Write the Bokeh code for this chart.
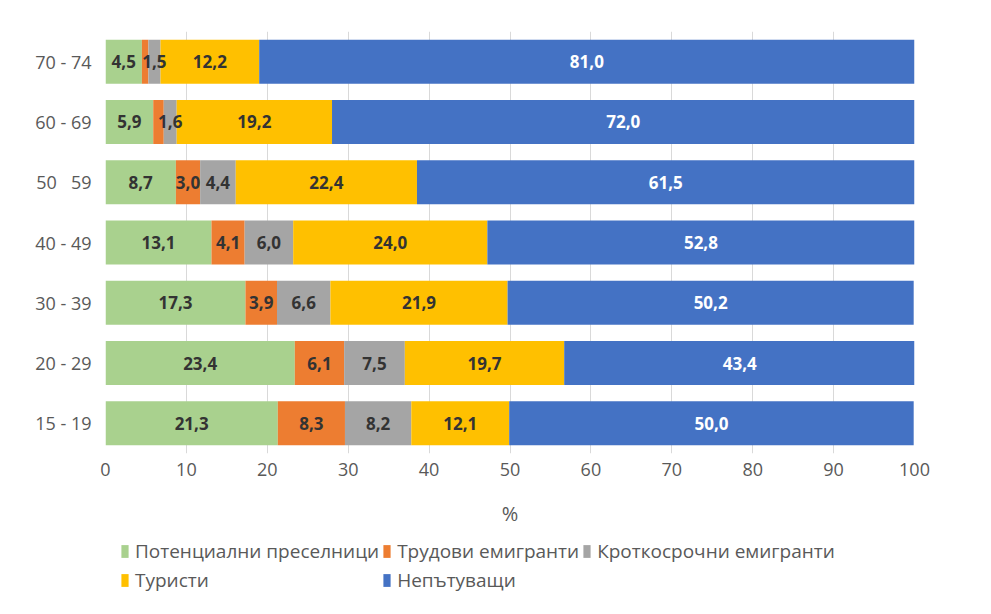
from bokeh.plotting import figure
from bokeh.layouts import column
from bokeh.models import ColumnDataSource, FactorRange, Legend, LegendItem
from bokeh.core.properties import value
from bokeh.embed import file_html
from bokeh.resources import INLINE

age_groups = ["15 - 19", "20 - 29", "30 - 39", "40 - 49", "50 \u00a0 59", "60 - 69", "70 - 74"]
series_names = ["Потенциални преселници", "Трудови емигранти", "Кроткосрочни емигранти",
                "Туристи", "Непътуващи"]
potential = [21.3, 23.4, 17.3, 13.1, 8.7, 5.9, 4.5]
labour = [8.3, 6.1, 3.9, 4.1, 3.0, 1.3, 0.8]
short_term = [8.2, 7.5, 6.6, 6.0, 4.4, 1.6, 1.5]
tourists = [12.1, 19.7, 21.9, 24.0, 22.4, 19.2, 12.2]
non_travel = [50.0, 43.4, 50.2, 52.8, 61.5, 72.0, 81.0]
x_ticks = [0, 10, 20, 30, 40, 50, 60, 70, 80, 90, 100]

colors = ["#a9d18e", "#ed7d31", "#a5a5a5", "#ffc000", "#4472c4"]
label_colors = ["#333333", "#333333", "#333333", "#333333", "#ffffff"]
keys = ["s0", "s1", "s2", "s3", "s4"]
series = [potential, labour, short_term, tourists, non_travel]

data = {"cat": age_groups}
for k, s in zip(keys, series):
    data[k] = s
src = ColumnDataSource(data)

FONT = "Open Sans"
TXT = "#595959"

p = figure(width=975, height=533,
           y_range=FactorRange(factors=age_groups, range_padding=0),
           x_range=(0, 100), output_backend="svg", toolbar_location=None,
           min_border_left=105, min_border_right=61, min_border_top=31, min_border_bottom=80)
p.outline_line_color = None

renderers = p.hbar_stack(keys, y="cat", height=0.73, color=colors, source=src, line_color=None)

# data labels
for i, (k, s) in enumerate(zip(keys, series)):
    xs, ys, ts = [], [], []
    for j, cat in enumerate(age_groups):
        left = sum(series[m][j] for m in range(i))
        v = s[j]
        if i == 1 and v < 2:
            continue
        xs.append(left + v / 2)
        ys.append(cat)
        ts.append(f"{v:.1f}".replace(".", ","))
    p.text(x=xs, y=ys, text=ts, text_align="center", text_baseline="middle",
           text_font=value(FONT), text_font_style="bold", text_font_size="17px",
           text_color=label_colors[i])

p.xaxis.ticker = x_ticks
p.xgrid.ticker = x_ticks
p.xgrid.grid_line_color = "#d9d9d9"
p.ygrid.grid_line_color = None
for ax in (p.xaxis, p.yaxis):
    ax.axis_line_color = None
    ax.major_tick_line_color = None
    ax.minor_tick_line_color = None
    ax.major_label_text_font = FONT
    ax.major_label_text_font_size = "18px"
    ax.major_label_text_color = TXT
p.xaxis.major_label_standoff = 3
p.yaxis.major_label_standoff = 8
p.xaxis.axis_label = "%"
p.xaxis.axis_label_text_font = FONT
p.xaxis.axis_label_text_font_style = "normal"
p.xaxis.axis_label_text_font_size = "20px"
p.xaxis.axis_label_text_color = TXT
p.xaxis.axis_label_standoff = 21

# legend panel (separate figure under the chart, frames aligned)
lf = figure(width=975, height=72, x_range=(0, 1), y_range=(0, 1),
            output_backend="svg", toolbar_location=None,
            min_border_left=105, min_border_right=61, min_border_top=0, min_border_bottom=0)
lf.outline_line_color = None
lf.axis.visible = False
lf.grid.grid_line_color = None
nan = float("nan")
leg_renderers = [lf.hbar(y=[nan], right=[nan], height=0.5, color=c, line_color=None)
                 for c in colors]

items = [LegendItem(label=n, renderers=[r]) for n, r in zip(series_names, leg_renderers)]
legend = Legend(items=items, location=(15, 12), orientation="horizontal", ncols=3,
                glyph_width=9, glyph_height=16, label_standoff=6, spacing=3,
                padding=0, margin=0, border_line_color=None, background_fill_alpha=0,
                label_text_font=FONT, label_text_font_size="19px", label_text_color=TXT,
                label_height=23)
lf.add_layout(legend, "center")

layout = column(p, lf, spacing=0)
open("out.html", "w").write(file_html(layout, INLINE))
